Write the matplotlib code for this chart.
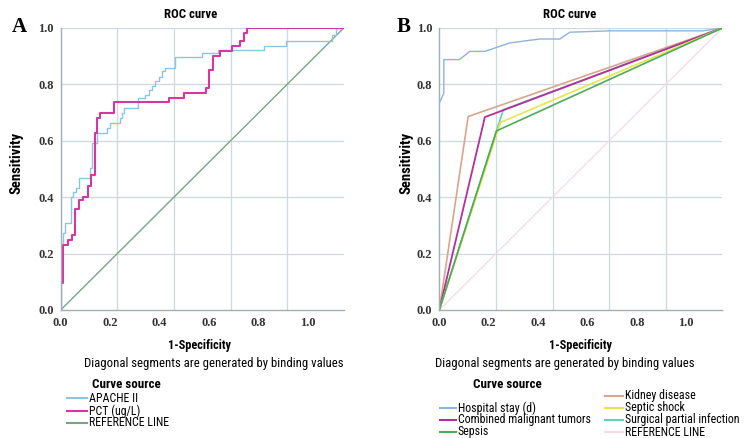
import matplotlib
matplotlib.use("Agg")
import matplotlib.pyplot as plt
from matplotlib import font_manager

# Panel A - step ROC curves
apache_fpr = [0, 0.001, 0.009, 0.015, 0.035, 0.045, 0.054, 0.063, 0.102, 0.110, 0.128,
              0.165, 0.175, 0.208, 0.216, 0.224, 0.272, 0.299, 0.311, 0.322, 0.334,
              0.346, 0.358, 0.370, 0.405, 0.499, 0.555, 0.718, 0.795, 0.960, 0.972, 1.0]
apache_tpr = [0, 0.231, 0.272, 0.308, 0.402, 0.420, 0.432, 0.467, 0.503, 0.592, 0.627,
              0.645, 0.663, 0.680, 0.698, 0.716, 0.751, 0.763, 0.781, 0.793, 0.811,
              0.828, 0.846, 0.858, 0.897, 0.911, 0.923, 0.935, 0.953, 0.976, 1.0, 1.0]
pct_fpr = [0, 0, 0.007, 0.027, 0.039, 0.051, 0.063, 0.080, 0.098, 0.106, 0.122, 0.130,
           0.139, 0.187, 0.381, 0.434, 0.515, 0.523, 0.538, 0.564, 0.606, 0.635, 0.647,
           0.659, 1.0]
pct_tpr = [0, 0.095, 0.231, 0.249, 0.266, 0.357, 0.391, 0.402, 0.438, 0.479, 0.627, 0.680,
           0.698, 0.736, 0.751, 0.769, 0.787, 0.852, 0.899, 0.917, 0.935, 0.953, 0.982,
           1.0, 1.0]

# Panel B
stay_fpr = [0, 0.016, 0.016, 0.071, 0.108, 0.161, 0.249, 0.355, 0.426, 0.461, 0.602, 0.932, 1.0]
stay_tpr = [0.734, 0.769, 0.888, 0.888, 0.917, 0.917, 0.947, 0.961, 0.961, 0.985, 0.99, 0.99, 1.0]
kidney_fpr, kidney_tpr = [0, 0.102, 1.0], [0, 0.686, 1.0]
tumor_fpr, tumor_tpr = [0, 0.161, 1.0], [0, 0.684, 1.0]
sepsis_fpr, sepsis_tpr = [0, 0.202, 1.0], [0, 0.635, 1.0]
shock_fpr, shock_tpr = [0, 0.216, 1.0], [0, 0.665, 1.0]
surg_fpr, surg_tpr = [0, 0.226, 1.0], [0, 0.710, 1.0]
ref_line = [0, 1.0]

tick_values = [0.0, 0.2, 0.4, 0.6, 0.8, 1.0]
tick_labels = ["0.0", "0.2", "0.4", "0.6", "0.8", "1.0"]

W, H = 749, 438
fig = plt.figure(figsize=(W / 100, H / 100), dpi=100)

SERIF = ["Liberation Serif", "DejaVu Serif"]
GRID = "#cdd9dc"

# a condensed sans is closest to the original; fall back to a smaller regular one
NARROW, SCALE = ["Liberation Sans", "DejaVu Sans"], 0.78
for cand in ["Liberation Sans Narrow", "Roboto Condensed", "DejaVu Sans Condensed"]:
    try:
        font_manager.findfont(cand, fallback_to_default=False)
        NARROW, SCALE = [cand, "DejaVu Sans"], 1.0
        break
    except Exception:
        pass


def fs(size):
    return size * SCALE


def px(x, y):
    return x / W, 1 - y / H


def setup_axes(left_px, letter, letter_x):
    ax = fig.add_axes([left_px / W, (H - 310) / H, 283 / W, 282 / H])
    ax.set_xlim(0, 1)
    ax.set_ylim(0, 1)
    for s in ["top", "right"]:
        ax.spines[s].set_visible(False)
    for s in ["left", "bottom"]:
        ax.spines[s].set_color("#9fb0b4")
        ax.spines[s].set_linewidth(1.0)
    for v in tick_values[1:-1]:
        ax.axvline(v, color=GRID, lw=0.9, zorder=0)
    for v in tick_values[1:]:
        ax.axhline(v, color=GRID, lw=0.9, zorder=0)
    # x labels sit a bit compressed relative to the grid in the original
    ax.set_xticks([i * 0.1745 for i in range(6)], tick_labels)
    ax.set_yticks(tick_values, tick_labels)
    ax.tick_params(length=0, pad=5)
    for lab in ax.get_xticklabels() + ax.get_yticklabels():
        lab.set_family(SERIF)
        lab.set_fontweight("bold")
        lab.set_fontsize(9)
        lab.set_color("#333333")
    ax.text(0.46, 1.025, "ROC curve", transform=ax.transAxes, ha="center", va="bottom",
            family=NARROW, fontweight="bold", fontsize=fs(9.2))
    fig.text(*px(letter_x, 27), letter, family=SERIF, fontweight="bold", fontsize=15,
             ha="center", va="center")
    return ax


axA = setup_axes(60.7, "A", 19)
axA.plot(ref_line, ref_line, color="#7aa584", lw=1.0)
axA.plot(apache_fpr, apache_tpr, color="#92c3dc", lw=1.0, drawstyle="steps-post")
axA.plot(pct_fpr, pct_tpr, color="#d8369f", lw=1.5, drawstyle="steps-post")

axB = setup_axes(439.3, "B", 404)
axB.plot(ref_line, ref_line, color="#f4dbe8", lw=0.9)
axB.plot(stay_fpr, stay_tpr, color="#8fb3d9", lw=1.0)
axB.plot(kidney_fpr, kidney_tpr, color="#d9a58c", lw=1.2)
axB.plot(surg_fpr, surg_tpr, color="#5fd3b6", lw=1.2)
axB.plot(tumor_fpr, tumor_tpr, color="#b2309a", lw=1.3)
axB.plot(shock_fpr, shock_tpr, color="#e6e64c", lw=1.2)
axB.plot(sepsis_fpr, sepsis_tpr, color="#4fa85c", lw=1.2)

for cx, cy in [(17, 163), (407, 163)]:
    fig.text(*px(cx, cy), "Sensitivity", rotation=90, ha="center", va="center",
             family=NARROW, fontweight="bold", fontsize=fs(10.5))

for cx in [199, 580]:
    fig.text(*px(cx, 345), "1-Specificity", ha="center", va="center",
             family=NARROW, fontweight="bold", fontsize=fs(8.8))
for cx in [214, 565]:
    fig.text(*px(cx, 363), "Diagonal segments are generated by binding values",
             ha="center", va="center", family=NARROW, fontsize=fs(9.2))
for lx in [92, 473]:
    fig.text(*px(lx, 385), "Curve source", ha="left", va="center",
             family=NARROW, fontweight="bold", fontsize=fs(9.4))


def legend_item(x0, x1, y, color, label):
    fig.add_artist(plt.Line2D([x0 / W, x1 / W], [1 - y / H, 1 - y / H],
                              color=color, lw=1.5, transform=fig.transFigure))
    fig.text((x1 + 2) / W, 1 - y / H, label, ha="left", va="center",
             family=NARROW, fontsize=fs(8.6))


legend_item(67, 87, 398, "#92c3dc", "APACHE II")
legend_item(67, 87, 411, "#d8369f", "PCT (ug/L)")
legend_item(67, 87, 423, "#7aa584", "REFERENCE LINE")

legend_item(440, 456, 408, "#8fb3d9", "Hospital stay (d)")
legend_item(440, 456, 420, "#b2309a", "Combined malignant tumors")
legend_item(440, 456, 432, "#4fa85c", "Sepsis")
legend_item(605, 623, 396, "#d9a58c", "Kidney disease")
legend_item(605, 623, 408, "#e6e64c", "Septic shock")
legend_item(605, 623, 420, "#5fd3b6", "Surgical partial infection")
legend_item(605, 623, 432, "#f4dbe8", "REFERENCE LINE")

fig.savefig("out.png", dpi=100)
